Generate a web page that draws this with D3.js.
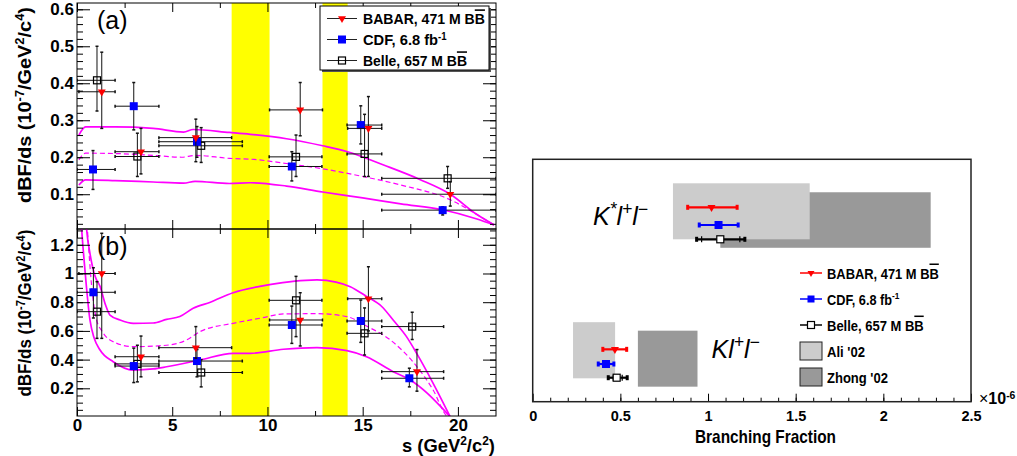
<!DOCTYPE html>
<html>
<head>
<meta charset="utf-8">
<script src="https://cdn.jsdelivr.net/npm/d3@7"></script>
<style>
body { margin: 0; background: #fff; }
text { font-family: "Liberation Sans", Arial, Helvetica, sans-serif; }
</style>
</head>
<body>
<div id="chart"></div>
<script>
// ---- left: dBF/ds vs s, panel (a) = K*l+l-, panel (b) = Kl+l-
// rows: [s, sLo, sHi, value, valueLo, valueHi]
var babarA = [
    [1.30, 0.10, 2.00, 0.377, 0.278, 0.484],
    [3.36, 2.00, 4.30, 0.215, 0.155, 0.278],
    [6.24, 4.30, 8.12, 0.253, 0.188, 0.303],
    [11.72, 10.11, 12.89, 0.328, 0.258, 0.402],
    [15.30, 14.21, 16.00, 0.278, 0.148, 0.364],
    [19.60, 16.00, 22.00, 0.100, 0.068, 0.134]
];
var cdfA = [
    [0.84, 0.00, 2.00, 0.167, 0.113, 0.218],
    [2.98, 2.00, 4.30, 0.338, 0.274, 0.402],
    [6.30, 4.30, 8.68, 0.242, 0.200, 0.283],
    [11.28, 10.09, 12.86, 0.175, 0.136, 0.215],
    [14.90, 14.18, 16.00, 0.287, 0.236, 0.339],
    [19.20, 16.00, 22.00, 0.057, 0.044, 0.066]
];
var belleA = [
    [1.05, 0.00, 2.00, 0.408, 0.325, 0.500],
    [3.17, 2.00, 4.30, 0.202, 0.148, 0.265],
    [6.52, 4.30, 8.68, 0.231, 0.186, 0.280],
    [11.50, 10.09, 12.86, 0.201, 0.148, 0.260],
    [15.10, 14.18, 16.00, 0.209, 0.148, 0.316],
    [19.46, 16.00, 22.00, 0.143, 0.116, 0.175]
];
var babarB = [
    [1.30, 0.10, 2.00, 1.000, 0.548, 1.280],
    [3.36, 2.00, 4.30, 0.420, 0.280, 0.564],
    [6.24, 4.30, 8.12, 0.483, 0.410, 0.630],
    [11.72, 10.11, 12.89, 0.676, 0.495, 0.866],
    [15.30, 14.21, 16.00, 0.824, 0.600, 1.047],
    [17.85, 16.00, 19.25, 0.316, 0.180, 0.470]
];
var cdfB = [
    [0.86, 0.00, 2.00, 0.869, 0.690, 1.040],
    [2.98, 2.00, 4.30, 0.355, 0.240, 0.480],
    [6.30, 4.30, 8.68, 0.390, 0.280, 0.470],
    [11.28, 10.09, 12.86, 0.641, 0.513, 0.773],
    [14.90, 14.18, 16.00, 0.669, 0.520, 0.815],
    [17.45, 16.00, 19.25, 0.270, 0.210, 0.340]
];
var belleB = [
    [1.05, 0.00, 2.00, 0.734, 0.548, 0.943],
    [3.17, 2.00, 4.30, 0.370, 0.245, 0.500],
    [6.52, 4.30, 8.68, 0.310, 0.210, 0.400],
    [11.50, 10.09, 12.86, 0.813, 0.560, 0.980],
    [15.10, 14.18, 16.00, 0.583, 0.432, 0.760],
    [17.60, 16.00, 19.25, 0.630, 0.540, 0.730]
];

// SM prediction bands [s, value]
var upperA = [[0.1,0.26],[0.45,0.282],[2,0.282],[4,0.278],[5.6,0.268],[6.1,0.275],[8,0.267],[9.1,0.262],[11,0.25],[12.9,0.231],[14.2,0.215],[16.1,0.179],[18,0.14],[19.6,0.1],[21,0.045],[21.9,0.017]];
var midA = [[0.1,0.193],[0.45,0.211],[2,0.21],[4,0.205],[5.5,0.2],[6.2,0.205],[8,0.197],[9.3,0.194],[11,0.183],[13,0.168],[15,0.148],[17,0.125],[19.6,0.085],[21,0.045],[21.9,0.017]];
var lowerA = [[0.1,0.125],[0.45,0.139],[2,0.137],[4,0.133],[5.6,0.13],[6.2,0.135],[8,0.129],[9.1,0.131],[11,0.122],[12.9,0.106],[15,0.09],[17,0.074],[19.2,0.058],[21,0.033],[21.9,0.017]];
var upperB = [[0.45,1.4],[0.51,1.3],[0.68,1.14],[0.95,0.98],[1.21,0.91],[1.5,0.78],[1.73,0.71],[2.26,0.676],[2.96,0.653],[4.0,0.655],[4.7,0.68],[5.4,0.70],[6.1,0.757],[7.0,0.80],[8.2,0.866],[9.6,0.91],[10.8,0.936],[12.0,0.952],[12.6,0.955],[13.6,0.94],[14.35,0.908],[15.2,0.84],[16.0,0.77],[16.6,0.676],[17.3,0.56],[17.85,0.44],[18.7,0.235],[19.3,0.08],[19.6,0]];
var midB = [[0.5,1.4],[0.55,1.3],[0.77,0.91],[1.03,0.676],[1.3,0.6],[1.73,0.537],[2.96,0.49],[4.7,0.50],[5.76,0.537],[6.46,0.595],[8.2,0.653],[9.6,0.688],[10.84,0.718],[12.6,0.72],[14.17,0.70],[15.2,0.634],[16.45,0.537],[17.85,0.35],[18.7,0.188],[19.4,0.01],[19.5,0]];
var lowerB = [[0.2,1.4],[0.25,1.3],[0.42,1.02],[0.68,0.676],[0.9,0.55],[1.21,0.467],[1.9,0.385],[2.96,0.327],[4.0,0.335],[4.7,0.35],[6.46,0.397],[8.2,0.444],[9.1,0.444],[10.84,0.472],[12.6,0.483],[14.17,0.462],[15.2,0.42],[16.6,0.316],[17.5,0.258],[18.4,0.165],[19.1,0.072],[19.6,0]];

var vetoBands = [[8.12, 10.11], [12.89, 14.21]];
var sTicks = [0, 5, 10, 15, 20];
var sMinorTicks = [2.5, 7.5, 12.5, 17.5];
var yTicksA = [0.1, 0.2, 0.3, 0.4, 0.5, 0.6];
var yTicksB = [0.2, 0.4, 0.6, 0.8, 1.0, 1.2];

// ---- right: total branching fractions (x 10^-6), index 0 = K*l+l-, 1 = Kl+l-
var aliBF = [[0.80, 1.58], [0.23, 0.47]];
var zhongBF = [[1.07, 2.27], [0.60, 0.94]];
var babarBF = [[1.02, 0.884, 1.166], [0.469, 0.400, 0.536]];
var cdfBF = [[1.06, 0.950, 1.172], [0.418, 0.374, 0.463]];
var belleBF = [[1.07, 0.935, 1.210], [0.479, 0.431, 0.539]];
var bfTicks = [0, 0.5, 1, 1.5, 2, 2.5];

var legendNames = ["BABAR, 471 M BB", "CDF, 6.8 fb", "Belle, 657 M BB", "Ali '02", "Zhong '02"];

var W = 1017, H = 456;
var svg = d3.select("#chart").append("svg").attr("width", W).attr("height", H);

var x = d3.scaleLinear().domain([0, 22]).range([77, 496]);
var yA = d3.scaleLinear().domain([0.006, 0.617]).range([229, 3]);
var yB = d3.scaleLinear().domain([0.007, 1.31]).range([416, 229]);

var magenta = "#ff00ff";
var bar = "#111";

function marker(g, kind, cx, cy, sz) {
    if (kind == "babar") {
        var a = Math.sqrt(3) / 4 * sz * sz;
        g.append("path").attr("d", d3.symbol(d3.symbolTriangle, a)())
            .attr("transform", "translate(" + cx + "," + cy + ") rotate(180)")
            .attr("fill", "#ff0000");
    } else if (kind == "cdf") {
        g.append("rect").attr("x", cx - sz / 2).attr("y", cy - sz / 2)
            .attr("width", sz).attr("height", sz).attr("fill", "#0000ff");
    } else {
        g.append("rect").attr("x", cx - sz / 2 + 0.5).attr("y", cy - sz / 2 + 0.5)
            .attr("width", sz - 1).attr("height", sz - 1)
            .attr("fill", "none").attr("stroke", "#000").attr("stroke-width", 1.2);
    }
}

function line(g, x1, y1, x2, y2, col, w) {
    return g.append("line").attr("x1", x1).attr("y1", y1).attr("x2", x2).attr("y2", y2)
        .attr("stroke", col).attr("stroke-width", w || 1);
}

function drawPoints(g, y, rows, kind) {
    rows.forEach(function(d) {
        var px = x(d[0]), py = y(d[3]);
        line(g, x(d[1]), py, x(d[2]), py, bar);
        line(g, px, y(d[4]), px, y(d[5]), bar);
        line(g, x(d[1]), py - 1.5, x(d[1]), py + 1.5, bar, 1.5);
        line(g, x(d[2]), py - 1.5, x(d[2]), py + 1.5, bar, 1.5);
        line(g, px - 1.5, y(d[4]), px + 1.5, y(d[4]), bar, 1.5);
        line(g, px - 1.5, y(d[5]), px + 1.5, y(d[5]), bar, 1.5);
    });
    rows.forEach(function(d) { marker(g, kind, x(d[0]), y(d[3]), 8); });
}

function rich(sel, parts) {
    parts.forEach(function(p) {
        var t = sel.append("tspan").text(p[0]);
        if (p[1] == "sup") t.attr("baseline-shift", "super").attr("font-size", "65%");
        if (p[1] == "over") t.style("text-decoration", "overline");
    });
    return sel;
}

// squeeze a text horizontally to a measured width (condensed look of the original)
function fit(t, w, pre) {
    var bw = t.node().getBBox().width;
    t.attr("transform", pre + " scale(" + (w / bw) + ",1)");
    return t;
}

// yellow veto bands across both panels
svg.selectAll(".veto").data(vetoBands).enter().append("rect")
    .attr("class", "veto")
    .attr("x", d => x(d[0])).attr("width", d => x(d[1]) - x(d[0]))
    .attr("y", yA.range()[1]).attr("height", yB.range()[0] - yA.range()[1])
    .attr("fill", "#ffff00");

function panel(id, y, curves, sets, yTicks, yMinor, fmt, showX) {
    var top = y.range()[1], bot = y.range()[0];
    svg.append("clipPath").attr("id", id).append("rect")
        .attr("x", x.range()[0]).attr("y", top)
        .attr("width", x.range()[1] - x.range()[0]).attr("height", bot - top);
    var g = svg.append("g").attr("clip-path", "url(#" + id + ")");

    var ln = d3.line().x(d => x(d[0])).y(d => y(d[1])).curve(d3.curveMonotoneX);
    g.append("path").datum(curves[0]).attr("d", ln).attr("fill", "none").attr("stroke", magenta).attr("stroke-width", 1.7);
    g.append("path").datum(curves[1]).attr("d", ln).attr("fill", "none").attr("stroke", magenta).attr("stroke-width", 1.2).attr("stroke-dasharray", "5,3");
    g.append("path").datum(curves[2]).attr("d", ln).attr("fill", "none").attr("stroke", magenta).attr("stroke-width", 1.7);

    drawPoints(g, y, sets[2], "belle");
    drawPoints(g, y, sets[1], "cdf");
    drawPoints(g, y, sets[0], "babar");

    // axes with ROOT-style inward ticks
    var ax = svg.append("g");
    ax.append("g").attr("transform", "translate(" + x.range()[0] + ",0)")
        .call(d3.axisLeft(y).tickValues(yTicks).tickSize(-13).tickPadding(3).tickFormat(fmt));
    ax.append("g").attr("transform", "translate(" + x.range()[0] + ",0)")
        .call(d3.axisLeft(y).tickValues(yMinor).tickSize(-6).tickFormat(""));
    ax.append("g").attr("transform", "translate(" + x.range()[1] + ",0)")
        .call(d3.axisRight(y).tickValues(yTicks).tickSize(-13).tickFormat(""));
    ax.append("g").attr("transform", "translate(" + x.range()[1] + ",0)")
        .call(d3.axisRight(y).tickValues(yMinor).tickSize(-6).tickFormat(""));
    ax.append("g").attr("transform", "translate(0," + top + ")")
        .call(d3.axisTop(x).tickValues(sTicks).tickSize(-9).tickFormat(""));
    ax.append("g").attr("transform", "translate(0," + top + ")")
        .call(d3.axisTop(x).tickValues(sMinorTicks).tickSize(-5).tickFormat(""));
    ax.append("g").attr("transform", "translate(0," + bot + ")")
        .call(d3.axisBottom(x).tickValues(sTicks).tickSize(-9).tickPadding(3).tickFormat(showX ? d3.format("d") : ""));
    ax.append("g").attr("transform", "translate(0," + bot + ")")
        .call(d3.axisBottom(x).tickValues(sMinorTicks).tickSize(-5).tickFormat(""));
    ax.selectAll(".domain").remove();
    ax.selectAll(".tick line").attr("stroke", "#000");
    ax.selectAll(".tick text").attr("font-size", 17).attr("font-weight", "bold").attr("fill", "#000")
        .attr("font-family", "'Liberation Sans', Arial, sans-serif");

    svg.append("rect").attr("x", x.range()[0]).attr("y", top)
        .attr("width", x.range()[1] - x.range()[0]).attr("height", bot - top)
        .attr("fill", "none").attr("stroke", "#000").attr("stroke-width", 1);
}

var minorA = d3.range(1, 31).map(i => i * 0.02);
var minorB = d3.range(1, 27).map(i => i * 0.05);
panel("clipA", yA, [upperA, midA, lowerA], [babarA, cdfA, belleA], yTicksA, minorA, d3.format(".1f"), false);
panel("clipB", yB, [upperB, midB, lowerB], [babarB, cdfB, belleB], yTicksB, minorB, d3.format("~g"), true);

// panel labels
svg.append("text").attr("x", 97).attr("y", 29).attr("font-size", 25).text("(a)");
svg.append("text").attr("x", 97).attr("y", 255).attr("font-size", 25).text("(b)");

// y titles
[[105, 196], [313, 167]].forEach(function(p) {
    var t = svg.append("text").attr("font-size", 19).attr("font-weight", "bold");
    rich(t, [["dBF/ds (10"], ["-7", "sup"], ["/GeV"], ["2", "sup"], ["/c"], ["4", "sup"], [")"]]);
    fit(t, p[1], "translate(31," + p[0] + ") rotate(-90) translate(" + (-p[1] / 2) + ",0)");
});

var sTitle = svg.append("text").attr("font-size", 19).attr("font-weight", "bold");
rich(sTitle, [["s (GeV"], ["2", "sup"], ["/c"], ["2", "sup"], [")"]]);
fit(sTitle, 93, "translate(402,452)");

// legend of left panel
var lg = svg.append("g");
lg.append("rect").attr("x", 322).attr("y", 8).attr("width", 169).attr("height", 64).attr("fill", "#555");
lg.append("rect").attr("x", 320).attr("y", 6).attr("width", 169).attr("height", 64)
    .attr("fill", "#fff").attr("stroke", "#000");
var lgKinds = ["babar", "cdf", "belle"];
var lgText = [
    [["BABAR, 471 M B"], ["B", "over"]],
    [["CDF, 6.8 fb"], ["-1", "sup"]],
    [["Belle, 657 M B"], ["B", "over"]]
];
var lgWidths = [122, 84, 104];
lgKinds.forEach(function(k, i) {
    var cy = 18.5 + i * 21;
    line(lg, 327, cy, 357, cy, "#222");
    marker(lg, k, 342, cy, 8);
    var t = rich(lg.append("text").attr("font-size", 15.5).attr("font-weight", "bold"), lgText[i]);
    fit(t, lgWidths[i], "translate(363," + (cy + 5.5) + ")");
});

// ---- right panel
var xR = d3.scaleLinear().domain([0, 2.5]).range([532.7, 971]);
var yR = d3.scaleLinear().domain([0, 10]).range([401.7, 159.3]);
// vertical slots for each mode
var slotAli = [[6.70, 9.01], [0.965, 3.28]];
var slotZhong = [[6.35, 8.64], [0.62, 2.93]];
var slotPts = { babar: [8.02, 2.16], cdf: [7.29, 1.555], belle: [6.70, 0.99] };

var rg = svg.append("g");
zhongBF.forEach(function(d, i) {
    rg.append("rect").attr("x", xR(d[0])).attr("width", xR(d[1]) - xR(d[0]))
        .attr("y", yR(slotZhong[i][1])).attr("height", yR(slotZhong[i][0]) - yR(slotZhong[i][1]))
        .attr("fill", "#999999");
});
aliBF.forEach(function(d, i) {
    rg.append("rect").attr("x", xR(d[0])).attr("width", xR(d[1]) - xR(d[0]))
        .attr("y", yR(slotAli[i][1])).attr("height", yR(slotAli[i][0]) - yR(slotAli[i][1]))
        .attr("fill", "#cccccc");
});

function bfPoints(rows, kind, col) {
    rows.forEach(function(d, i) {
        var cy = yR(slotPts[kind][i]);
        line(rg, xR(d[1]), cy, xR(d[2]), cy, col, 2.2);
        [d[1], d[2]].forEach(function(v) {
            rg.append("rect").attr("x", xR(v) - 1.5).attr("y", cy - 2.5).attr("width", 3).attr("height", 5).attr("fill", col);
        });
        if (kind == "belle") {
            line(rg, xR(d[1]) + 5, cy - 3, xR(d[1]) + 5, cy + 3, col, 1.2);
            line(rg, xR(d[2]) - 5, cy - 3, xR(d[2]) - 5, cy + 3, col, 1.2);
            rg.append("rect").attr("x", xR(d[0]) - 3.5).attr("y", cy - 3.5).attr("width", 7).attr("height", 7)
                .attr("fill", "#fff").attr("stroke", "#000").attr("stroke-width", 1.2);
        } else {
            marker(rg, kind, xR(d[0]), cy, 8);
        }
    });
}
bfPoints(babarBF, "babar", "#ff0000");
bfPoints(cdfBF, "cdf", "#0000ff");
bfPoints(belleBF, "belle", "#000000");

// mode labels
function modeLabel(bx, by, parts) {
    var t = rg.append("text").attr("x", xR(bx)).attr("y", yR(by))
        .attr("font-family", "'Liberation Serif', 'Times New Roman', serif")
        .attr("font-style", "italic").attr("font-size", 25);
    parts.forEach(function(p) {
        var s = t.append("tspan").text(p[0]);
        if (p[1]) s.attr("baseline-shift", "super").attr("font-size", "70%");
    });
}
modeLabel(0.344, 7.29, [["K"], ["*", 1], ["l"], ["+", 1], ["l"], ["\u2212", 1]]);
modeLabel(1.02, 1.79, [["Kl"], ["+", 1], ["l"], ["\u2212", 1]]);

// axis
var ra = svg.append("g").attr("transform", "translate(0," + yR.range()[0] + ")");
ra.append("g").call(d3.axisBottom(xR).tickValues(bfTicks).tickSize(-8).tickPadding(9).tickFormat(d3.format("~g")));
ra.append("g").call(d3.axisBottom(xR).tickValues(d3.range(1, 25).map(i => i / 10)).tickSize(-4).tickFormat(""));
ra.selectAll(".domain").remove();
ra.selectAll(".tick line").attr("stroke", "#000");
ra.selectAll(".tick text").attr("font-size", 14.5).attr("font-weight", "bold").attr("fill", "#000")
    .attr("font-family", "'Liberation Sans', Arial, sans-serif");

svg.append("rect").attr("x", xR.range()[0]).attr("y", yR.range()[1])
    .attr("width", xR.range()[1] - xR.range()[0]).attr("height", yR.range()[0] - yR.range()[1])
    .attr("fill", "none").attr("stroke", "#222").attr("stroke-width", 1.5);

var mult = svg.append("text").attr("x", 979).attr("y", 404).attr("font-size", 16).attr("font-weight", "bold");
rich(mult, [["\u00d7", null], ["10"], ["-6", "sup"]]);
mult.select("tspan").attr("font-weight", "normal");

svg.append("text").attr("x", 765.5).attr("y", 443).attr("text-anchor", "middle")
    .attr("font-size", 19).attr("font-weight", "bold")
    .attr("textLength", 141).attr("lengthAdjust", "spacingAndGlyphs")
    .text("Branching Fraction");

// legend of right panel
var rl = svg.append("g");
var rlText = [
    [["BABAR, 471 M B"], ["B", "over"]],
    [["CDF, 6.8 fb"], ["-1", "sup"]],
    [["Belle, 657 M B"], ["B", "over"]],
    [[legendNames[3]]],
    [[legendNames[4]]]
];
var rlWidths = [112, 73, 97, 38, 61];
var rlCols = ["#ff0000", "#0000ff", "#000000"];
rlText.forEach(function(parts, i) {
    var cy = 273 + i * 26;
    if (i < 3) {
        line(rl, 800, cy, 822, cy, rlCols[i], 1.5);
        if (i == 2) {
            rl.append("rect").attr("x", 807.5).attr("y", cy - 3.5).attr("width", 7).attr("height", 7)
                .attr("fill", "#fff").attr("stroke", "#000").attr("stroke-width", 1.2);
        } else {
            marker(rl, lgKinds[i], 811, cy, 7);
        }
    } else {
        rl.append("rect").attr("x", 800).attr("y", cy - 9).attr("width", 22).attr("height", 18)
            .attr("fill", i == 3 ? "#cccccc" : "#999999").attr("stroke", "#222").attr("stroke-width", 1);
    }
    var t = rich(rl.append("text").attr("font-size", 15).attr("font-weight", "bold"), parts);
    fit(t, rlWidths[i], "translate(827," + (cy + 5.5) + ")");
});
</script>
</body>
</html>
